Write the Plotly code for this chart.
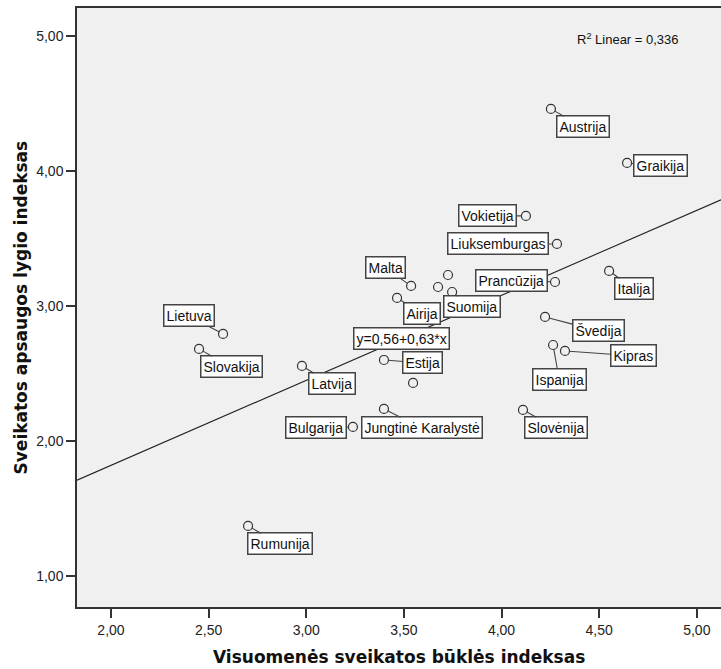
import plotly.graph_objects as go

# ---- data ----
countries = ["Austrija", "Graikija", "Vokietija", "Liuksemburgas", "Prancūzija", "Italija",
             "Švedija", "Ispanija", "Kipras", "Slovėnija", "Malta", "Airija", "", "",
             "Suomija", "Estija", "", "Latvija", "Lietuva", "Slovakija",
             "Jungtinė Karalystė", "Bulgarija", "Rumunija"]
x_health_state = [4.253, 4.643, 4.125, 4.284, 4.274, 4.551,
                  4.223, 4.264, 4.325, 4.110, 3.537, 3.465, 3.726, 3.675,
                  3.747, 3.398, 3.547, 2.978, 2.574, 2.451,
                  3.398, 3.239, 2.702]
y_health_care = [4.462, 4.062, 3.669, 3.461, 3.179, 3.261,
                 2.920, 2.712, 2.668, 2.231, 3.150, 3.061, 3.231, 3.142,
                 3.105, 2.601, 2.431, 2.557, 2.794, 2.683,
                 2.238, 2.105, 1.371]
fit_intercept = 0.56
fit_slope = 0.63
r_squared = "0,336"
x_ticks = [2.0, 2.5, 3.0, 3.5, 4.0, 4.5, 5.0]
x_tick_labels = ["2,00", "2,50", "3,00", "3,50", "4,00", "4,50", "5,00"]
y_ticks = [1.0, 2.0, 3.0, 4.0, 5.0]
y_tick_labels = ["1,00", "2,00", "3,00", "4,00", "5,00"]
x_title = "Visuomenės sveikatos būklės indeksas"
y_title = "Sveikatos apsaugos lygio indeksas"

# ---- layout / label placement (pixel offsets of label boxes) ----
label_offsets = {
    "Austrija": (32, 18), "Graikija": (33, 3), "Vokietija": (-38, 0),
    "Liuksemburgas": (-59, 0), "Prancūzija": (-44, -2), "Italija": (25, 18),
    "Švedija": (53, 14), "Ispanija": (6, 34), "Kipras": (69, 5),
    "Slovėnija": (33, 18), "Malta": (-26, -18), "Airija": (25, 16),
    "Suomija": (20, 15), "Estija": (39, 3), "Latvija": (30, 18),
    "Lietuva": (-34, -18), "Slovakija": (32, 18), "Jungtinė Karalystė": (38, 19),
    "Bulgarija": (-37, 1), "Rumunija": (32, 18),
}
X_RANGE = [1.826, 5.124]
Y_RANGE = [0.770, 5.210]
FONT = "Liberation Sans, Arial, sans-serif"
TITLE_FONT = "DejaVu Sans, Verdana, sans-serif"

fig = go.Figure()

# regression line across the full x range
fig.add_trace(go.Scatter(
    x=X_RANGE,
    y=[fit_intercept + fit_slope * v for v in X_RANGE],
    mode="lines", line=dict(color="#222222", width=1.1),
    hoverinfo="skip", showlegend=False))

# points
fig.add_trace(go.Scatter(
    x=x_health_state, y=y_health_care, mode="markers",
    marker=dict(symbol="circle", size=9, color="#f0f0f0",
                line=dict(color="#333333", width=1.2)),
    text=countries, hoverinfo="text", showlegend=False, cliponaxis=False))

annotations = []
for name, xv, yv in zip(countries, x_health_state, y_health_care):
    if not name:
        continue
    ax, ay = label_offsets[name]
    annotations.append(dict(
        x=xv, y=yv, xref="x", yref="y", text=name,
        showarrow=True, arrowhead=0, arrowwidth=1.1, arrowcolor="#444444",
        standoff=4, ax=ax, ay=ay,
        font=dict(family=FONT, size=14, color="#111111"),
        bgcolor="white", bordercolor="#444444", borderwidth=1.5, borderpad=2))

# regression equation label
annotations.append(dict(
    x=3.488, y=2.761, xref="x", yref="y",
    text=f"y={fit_intercept:.2f}+{fit_slope:.2f}*x".replace(".", ","),
    showarrow=False, font=dict(family=FONT, size=14, color="#111111"),
    bgcolor="white", bordercolor="#444444", borderwidth=1.5, borderpad=2))

# R squared
annotations.append(dict(
    x=0.773, y=0.948, xref="paper", yref="paper", xanchor="left", yanchor="middle",
    text=f"R<sup>2</sup> Linear = {r_squared}", showarrow=False,
    font=dict(family=FONT, size=13, color="#111111")))

# axis titles
annotations.append(dict(
    x=0.5, y=-0.0835, xref="paper", yref="paper", xanchor="center", yanchor="middle",
    text=f"<b>{x_title}</b>", showarrow=False,
    font=dict(family=TITLE_FONT, size=17, color="#111111")))
annotations.append(dict(
    x=-0.087, y=0.5, xref="paper", yref="paper", xanchor="center", yanchor="middle",
    text=f"<b>{y_title}</b>", showarrow=False, textangle=-90,
    font=dict(family=TITLE_FONT, size=17, color="#111111")))

fig.update_layout(
    width=721, height=669,
    margin=dict(l=77, r=0, t=8, b=62),
    paper_bgcolor="white", plot_bgcolor="#f0f0f0",
    font=dict(family=FONT, size=14, color="#222222"),
    annotations=annotations,
    xaxis=dict(range=X_RANGE, tickvals=x_ticks, ticktext=x_tick_labels,
               showgrid=False, zeroline=False, showline=True, linecolor="#333333",
               linewidth=1.5, mirror=True, ticks="outside", ticklen=9,
               tickcolor="#333333", tickwidth=1.5, automargin=False,
               tickfont=dict(family=FONT, size=14, color="#222222")),
    yaxis=dict(range=Y_RANGE, tickvals=y_ticks, ticktext=y_tick_labels,
               showgrid=False, zeroline=False, showline=True, linecolor="#333333",
               linewidth=1.5, ticks="outside", ticklen=9,
               tickcolor="#333333", tickwidth=1.5, automargin=False,
               tickfont=dict(family=FONT, size=14, color="#222222")),
)

fig.write_html("out.html", config={"displayModeBar": False},
               post_script="document.body.style.margin='0';document.body.style.padding='0';")
